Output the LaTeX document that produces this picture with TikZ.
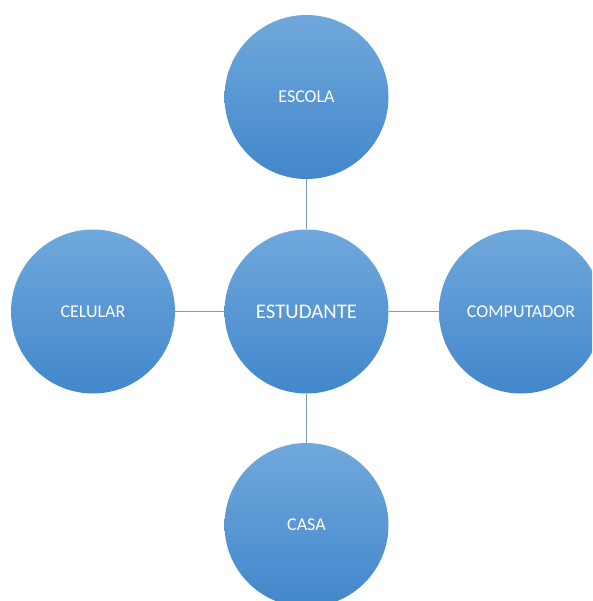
\documentclass[tikz,border=0pt]{standalone}
\usepackage{fontspec}
\setmainfont{Carlito}
\usepackage{tikz}
\usetikzlibrary{positioning}
\definecolor{BubbleTop}{HTML}{70A8DC}
\definecolor{BubbleMid}{HTML}{559CDB}
\definecolor{BubbleBottom}{HTML}{4287CB}
\definecolor{LinkLine}{HTML}{7B9DC0}
\tikzset{
  bubble/.style={circle,minimum size=164pt,inner sep=0pt,draw=none,
    top color=BubbleTop,middle color=BubbleMid,bottom color=BubbleBottom,
    text=white,font=\fontsize{18}{21}\selectfont},
  hub/.style={bubble,font=\fontsize{20.8}{24}\selectfont},
  link/.style={draw=LinkLine,line width=1.5pt}
}
\begin{document}
\begin{tikzpicture}[x=1pt,y=-1pt]
  \useasboundingbox (0,0) rectangle (592,601);
  \clip (0,0) rectangle (592,601);

  % Central bubble and its four neighbours.
  \coordinate (c) at (306.5,311.5);
  \node[hub] (estudante) at (c) {ESTUDANTE};
  \node[bubble] (escola) at (306.5,97) {ESCOLA};
  \node[bubble] (celular) at (93,311.5) {CELULAR};
  \node[bubble] (computador) at (521,311.5) {COMPUTADOR};
  \node[bubble] (casa) at (306.5,525) {CASA};

  \draw[link] (estudante) -- (escola);
  \draw[link] (estudante) -- (celular);
  \draw[link] (estudante) -- (computador);
  \draw[link] (estudante) -- (casa);
\end{tikzpicture}
\end{document}
